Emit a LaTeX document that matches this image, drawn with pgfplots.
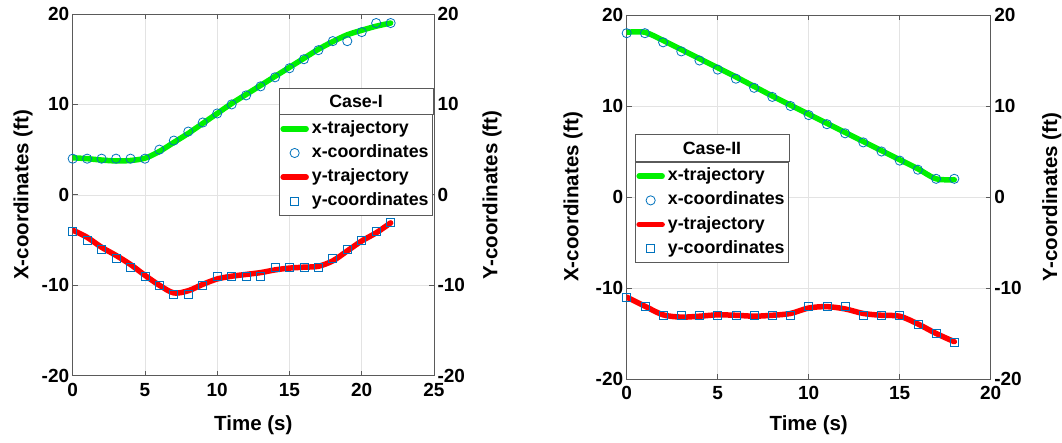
\documentclass[border=0pt]{standalone}
\usepackage{fontspec}
\setmainfont{Liberation Sans}
\usepackage{pgfplots}
\pgfplotsset{compat=1.18}

\definecolor{mblue}{RGB}{0,114,189}
\definecolor{mgreen}{RGB}{0,240,0}
\definecolor{mred}{RGB}{255,0,0}
\definecolor{axgray}{RGB}{90,90,90}

\pgfplotsset{
  panel/.style={
    scale only axis,
    ymin=-20, ymax=20,
    ytick={-20,-10,0,10,20}, yticklabels={-20,-10,0,10,20},
    tick align=inside, major tick length=5pt,
    grid=major, grid style={gray!22, line width=0.5pt},
    axis line style={axgray, line width=0.8pt},
    every tick/.style={axgray, line width=0.8pt},
    tick label style={font=\fontsize{19}{19}\selectfont\bfseries},
    xticklabel style={yshift=-4pt},
    label style={font=\fontsize{20.5}{20.5}\selectfont\bfseries},
    legend style={draw=axgray, line width=0.8pt, fill=white,
      font=\fontsize{17.8}{17.8}\selectfont\bfseries,
      cells={anchor=west}, inner xsep=1pt, inner ysep=2pt,
      nodes={inner ysep=3.6pt, inner xsep=3pt, text height=13pt, text depth=4pt}},
    legend image code/.code={\draw[mark repeat=2,mark phase=2,#1]
      plot coordinates {(0pt,0pt) (11.5pt,0pt) (23pt,0pt)};},
  },
  rightlab/.style={
    scale only axis,
    ymin=-20, ymax=20,
    ytick={-20,-10,0,10,20}, yticklabels={-20,-10,0,10,20},
    axis x line=none, axis y line*=right,
    major tick length=0pt,
    axis line style={axgray, line width=0.8pt},
    tick label style={font=\fontsize{19}{19}\selectfont\bfseries},
    label style={font=\fontsize{20.5}{20.5}\selectfont\bfseries},
  },
  traj/.style={line width=5.5pt, line cap=round, line join=round, smooth},
  circ/.style={only marks, mark=o, mark size=4.6pt, mark options={mblue, line width=0.8pt}},
  sq/.style={only marks, mark=square, mark size=4pt, mark options={mblue, line width=0.8pt}},
}

\begin{document}
\begin{tikzpicture}
\useasboundingbox (0,0) rectangle (1062pt,443pt);

% ---- Case I ----
\begin{axis}[panel, at={(72.7pt,67.3pt)}, anchor=south west,
  width=361.3pt, height=361.7pt,
  xmin=0, xmax=25, xtick={0,5,10,15,20,25}, xticklabels={0,5,10,15,20,25},
  xlabel={Time (s)}, ylabel={X-coordinates (ft)},
  xlabel style={at={(axis description cs:0.5,-0.136)}, anchor=center},
  ylabel style={at={(axis description cs:-0.1376,0.5)}, anchor=center},
  legend style={at={(rel axis cs:0.571,0.7227)}, anchor=north west, name=legL}]
\addplot[traj, mgreen] coordinates {(0,4.1) (1,4.0) (2,3.85) (3,3.75) (4,3.8) (5,4.05) (6,4.8) (7,5.8) (8,6.8) (9,7.9) (10,9.0) (11,10.1) (12,11.1) (13,12.1) (14,13.1) (15,14.1) (16,15.1) (17,16.1) (18,16.95) (19,17.7) (20,18.2) (21,18.65) (22,19.0)};
\addlegendentry{x-trajectory}
\addplot[circ] coordinates {(0,4) (1,4) (2,4) (3,4) (4,4) (5,4) (6,5) (7,6) (8,7) (9,8) (10,9) (11,10) (12,11) (13,12) (14,13) (15,14) (16,15) (17,16) (18,17) (19,17) (20,18) (21,19) (22,19)};
\addlegendentry{x-coordinates}
\addplot[traj, mred] coordinates {(0,-3.9) (1,-4.7) (2,-5.8) (3,-6.7) (4,-7.7) (5,-8.9) (6,-10.0) (7,-10.85) (8,-10.6) (9,-9.9) (10,-9.3) (11,-9.0) (12,-8.8) (13,-8.6) (14,-8.3) (15,-8.1) (16,-8.0) (17,-7.9) (18,-7.3) (19,-6.2) (20,-5.1) (21,-4.2) (22,-3.1)};
\addlegendentry{y-trajectory}
\addplot[sq] coordinates {(0,-4) (1,-5) (2,-6) (3,-7) (4,-8) (5,-9) (6,-10) (7,-11) (8,-11) (9,-10) (10,-9) (11,-9) (12,-9) (13,-9) (14,-8) (15,-8) (16,-8) (17,-8) (18,-7) (19,-6) (20,-5) (21,-4) (22,-3)};
\addlegendentry{y-coordinates}
\end{axis}
\begin{axis}[rightlab, at={(72.7pt,67.3pt)}, anchor=south west,
  width=361.3pt, height=361.7pt, xmin=0, xmax=25,
  ylabel={Y-coordinates (ft)},
  ylabel style={at={(axis description cs:1.1605,0.5)}, anchor=center}]
\end{axis}
\draw[axgray, line width=0.8pt, fill=white] (legL.north west) rectangle ([yshift=26.3pt]legL.north east);
\path (legL.north west) -- ([yshift=26.3pt]legL.north east) node[midway, font=\fontsize{17.8}{17.8}\selectfont\bfseries] {Case-I};

% ---- Case II ----
\begin{axis}[panel, at={(626.7pt,64pt)}, anchor=south west,
  width=364pt, height=364pt,
  xmin=0, xmax=20, xtick={0,5,10,15,20}, xticklabels={0,5,10,15,20},
  xlabel={Time (s)}, ylabel={X-coordinates (ft)},
  xlabel style={at={(axis description cs:0.5,-0.126)}, anchor=center},
  ylabel style={at={(axis description cs:-0.1475,0.5)}, anchor=center},
  legend style={at={(rel axis cs:0.0228,0.597)}, anchor=north west, name=legR}]
\addplot[traj, mgreen] coordinates {(0,18.1) (1,18.1) (2,17.2) (3,16.2) (4,15.2) (5,14.2) (6,13.2) (7,12.15) (8,11.1) (9,10.1) (10,9.1) (11,8.1) (12,7.1) (13,6.1) (14,5.1) (15,4.1) (16,3.1) (17,2.0) (18,1.9)};
\addlegendentry{x-trajectory}
\addplot[circ] coordinates {(0,18) (1,18) (2,17) (3,16) (4,15) (5,14) (6,13) (7,12) (8,11) (9,10) (10,9) (11,8) (12,7) (13,6) (14,5) (15,4) (16,3) (17,2) (18,2)};
\addlegendentry{x-coordinates}
\addplot[traj, mred] coordinates {(0,-11.0) (1,-12.0) (2,-12.95) (3,-13.2) (4,-13.1) (5,-12.95) (6,-13.0) (7,-13.1) (8,-13.0) (9,-12.8) (10,-12.2) (11,-12.05) (12,-12.3) (13,-12.8) (14,-13.0) (15,-13.1) (16,-13.95) (17,-15.0) (18,-15.9)};
\addlegendentry{y-trajectory}
\addplot[sq] coordinates {(0,-11) (1,-12) (2,-13) (3,-13) (4,-13) (5,-13) (6,-13) (7,-13) (8,-13) (9,-13) (10,-12) (11,-12) (12,-12) (13,-13) (14,-13) (15,-13) (16,-14) (17,-15) (18,-16)};
\addlegendentry{y-coordinates}
\end{axis}
\begin{axis}[rightlab, at={(626.7pt,64pt)}, anchor=south west,
  width=364pt, height=364pt, xmin=0, xmax=20,
  ylabel={Y-coordinates (ft)},
  ylabel style={at={(axis description cs:1.168,0.5)}, anchor=center}]
\end{axis}
\draw[axgray, line width=0.8pt, fill=white] (legR.north west) rectangle ([yshift=27.4pt]legR.north east);
\path (legR.north west) -- ([yshift=27.4pt]legR.north east) node[midway, font=\fontsize{17.8}{17.8}\selectfont\bfseries] {Case-II};
\end{tikzpicture}
\end{document}
